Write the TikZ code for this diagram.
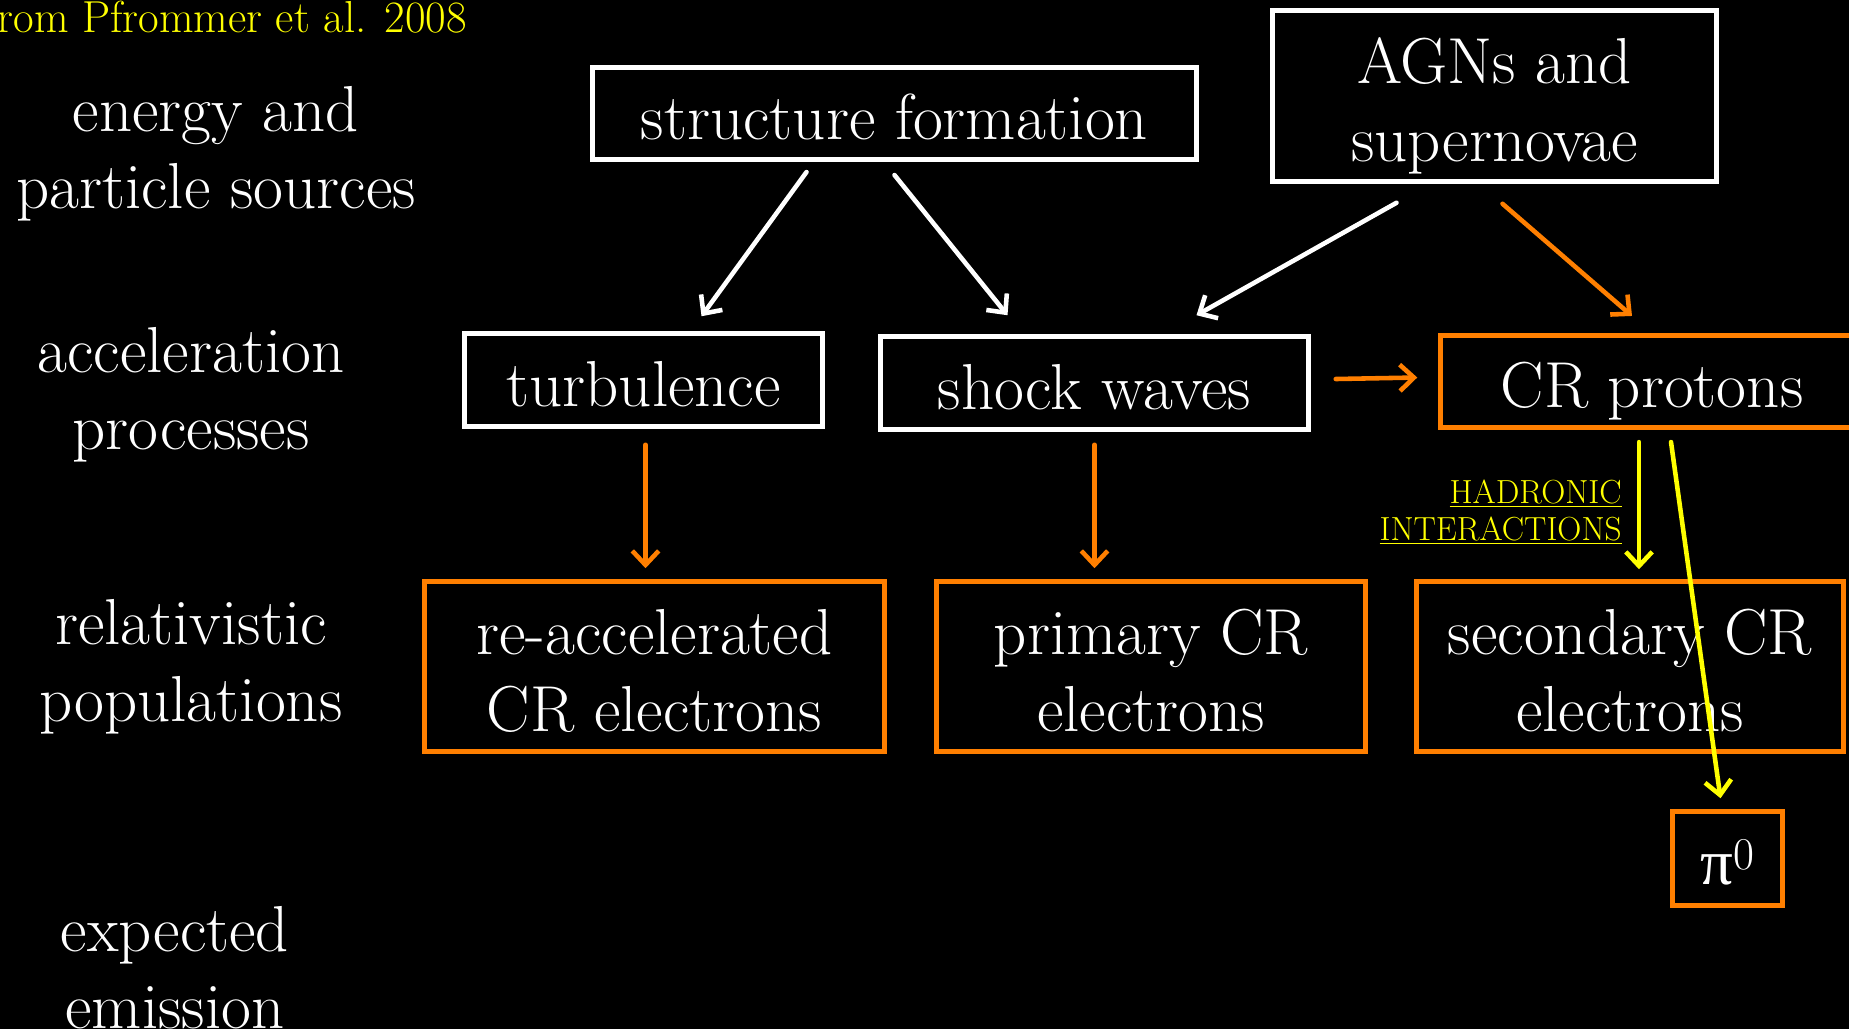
\documentclass[tikz,border=0pt]{standalone}
\usepackage{fontspec}
\newfontfamily\grkfont{Liberation Serif}
\usetikzlibrary{arrows.meta,calc}
\definecolor{slideorange}{RGB}{255,127,0}
\definecolor{slideyellow}{RGB}{255,255,0}

\begin{document}
\begin{tikzpicture}[x=0.02cm,y=-0.02cm,
  txt/.style={text=white, align=center, font=\fontsize{37}{44}\selectfont},
  oneline/.style={text height=38pt, text depth=8pt},
  twoline/.style={text height=82pt, text depth=8pt},
  wbox/.style={txt, draw=white, line width=2.6pt},
  obox/.style={txt, draw=slideorange, line width=2.6pt},
  warrow/.style={-{Straight Barb[length=8pt,width=15pt]}, white, line width=2.6pt, line cap=round},
  oarrow/.style={warrow, slideorange},
  yarrow/.style={warrow, slideyellow}]
\path[use as bounding box, fill=black] (0,0) rectangle (1849,1029);

% source
\node[anchor=base west, inner sep=0, text=slideyellow, font=\fontsize{25.5}{30}\selectfont] (src) at (-15,32) {from Pfrommer et al. 2008};

% row labels
\node[txt] (lsrc) at (216,154) {energy and\\ particle sources};
\node[txt] (lacc) at (191,395) {acceleration\\ processes};
\node[txt] (lpop) at (191,667) {relativistic\\ populations};
\node[txt] (lemi) at (175,968) {expected\\ emission};

% sources
\node[wbox, oneline, minimum width=12.08cm, minimum height=1.84cm] (sf) at (894.5,113.5) {structure formation};
\node[wbox, twoline, minimum width=8.88cm, minimum height=3.42cm] (agn) at (1494.5,96) {AGNs and\\ supernovae};

% acceleration
\node[wbox, oneline, minimum width=7.16cm, minimum height=1.86cm] (turb) at (643.5,380) {turbulence};
\node[wbox, oneline, minimum width=8.56cm, minimum height=1.86cm] (shock) at (1094.5,383) {shock waves};
\node[obox, oneline, minimum width=8.46cm, minimum height=1.84cm] (crp) at (1652,381.5) {CR protons};

% populations
\node[obox, twoline, minimum width=9.2cm, minimum height=3.4cm] (reacc) at (654.5,666.5) {re-accelerated\\ CR electrons};
\node[obox, twoline, minimum width=8.58cm, minimum height=3.4cm] (prim) at (1151,666.5) {primary CR\\ electrons};
\node[obox, twoline, minimum width=8.54cm, minimum height=3.4cm] (sec) at (1630,666.5) {secondary CR\\ electrons};
\node[obox, oneline, minimum width=2.2cm, minimum height=1.88cm] (pi) at (1727.5,858.5) {{\grkfont π}\textsuperscript{0}};

\node[anchor=east, align=right, inner sep=0, text=slideyellow, font=\fontsize{19}{21}\selectfont] (had) at (1622,512) {\underline{HADRONIC}\\ \underline{INTERACTIONS}};

\draw[warrow] ($(sf.south)+(-88,10)$) -- ($(turb.north)+(58,-15)$);
\draw[warrow] ($(sf.south)+(0,13)$) -- ($(shock.north)+(-87,-19)$);
\draw[warrow] ($(agn.south)+(-98,19)$) -- ($(shock.north)+(102,-19)$);
\draw[oarrow] ($(agn.south)+(8,20)$) -- ($(crp.north)+(-20,-17)$);
\draw[oarrow] ($(shock.east)+(25,-4)$) -- ($(crp.west)+(-21,-4)$);
\draw[oarrow] ($(turb.south)+(2,16)$) -- ($(turb.south |- reacc.north)+(2,-11)$);
\draw[oarrow] ($(shock.south)+(0,13)$) -- ($(shock.south |- prim.north)+(0,-11)$);
\draw[yarrow] ($(crp.south)+(-13,12)$) -- ($(sec.north)+(9,-10)$);
\draw[yarrow] ($(crp.south)+(19,12)$) -- ($(pi.north)+(-7,-11)$);
\end{tikzpicture}
\end{document}
